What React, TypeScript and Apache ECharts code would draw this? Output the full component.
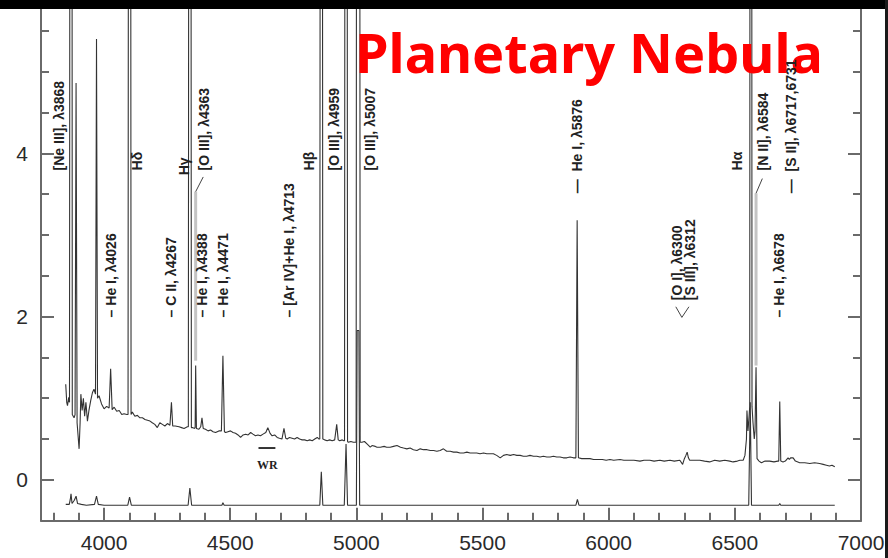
import React, { useEffect, useRef } from 'react';
import * as echarts from 'echarts';

// ---- axis ticks ----
const xMajorTicks = [4000, 4500, 5000, 5500, 6000, 6500, 7000];
const xMinorTicks = [3800, 3900, 4100, 4200, 4300, 4400, 4600, 4700, 4800, 4900, 5100, 5200, 5300, 5400, 5600, 5700, 5800, 5900, 6100, 6200, 6300, 6400, 6600, 6700, 6800, 6900];
const yMajorTicks = [0, 2, 4];
const yMinorTicks = [0.5, 1, 1.5, 2.5, 3, 3.5, 4.5, 5, 5.5];

// ---- spectrum: scaled (upper) trace, [wavelength Å, flux] ----
const upperSpectrum: [number, number][] = [
  [3848, 1.17], [3852, 0.95], [3855, 0.91], [3860, 1.01], [3863, 0.95],
  [3864, 0.95], [3866, 15], [3872, 15], [3874, 0.8],
  [3881, 0.76], [3885, 0.8], [3889, 4.86], [3893, 0.7],
  [3901, 0.38], [3905, 0.7], [3908, 1.05], [3913, 0.85], [3918, 1.0], [3923, 0.78], [3928, 0.95], [3934, 0.72], [3940, 0.85], [3947, 0.97], [3954, 1.07], [3960, 1.11],
  [3966, 1.05], [3970, 5.4], [3974, 1.0],
  [3980, 1.03], [3990, 0.93], [4000, 0.87], [4010, 0.9], [4020, 0.88], [4026, 1.36], [4032, 0.86], [4040, 0.89], [4050, 0.84], [4060, 0.85], [4070, 0.8], [4079, 0.81], [4090, 0.8],
  [4095, 0.8], [4098, 15], [4104, 15], [4107, 0.8],
  [4112, 0.83], [4122, 0.78], [4132, 0.79], [4142, 0.76], [4152, 0.76], [4162, 0.74], [4172, 0.73], [4182, 0.72], [4191, 0.7], [4201, 0.68], [4211, 0.64], [4221, 0.7], [4231, 0.68], [4241, 0.66], [4251, 0.69], [4261, 0.67], [4267, 0.95], [4272, 0.66], [4282, 0.66], [4297, 0.65], [4307, 0.64], [4317, 0.63], [4330, 0.65],
  [4334, 0.65], [4337, 15], [4343, 15], [4346, 0.64],
  [4352, 0.64], [4358, 0.63], [4361, 0.64], [4363, 1.4], [4366, 0.63],
  [4376, 0.62], [4383, 0.65], [4388, 0.76], [4393, 0.63], [4402, 0.62], [4412, 0.6], [4422, 0.61], [4432, 0.59], [4442, 0.58], [4455, 0.6], [4465, 0.6], [4471, 1.52], [4477, 0.59], [4482, 0.58], [4491, 0.59],
  [4501, 0.6], [4511, 0.58], [4521, 0.57], [4531, 0.55], [4541, 0.52], [4551, 0.55], [4561, 0.56], [4571, 0.55], [4581, 0.58], [4590, 0.56], [4600, 0.54], [4610, 0.55], [4620, 0.54], [4630, 0.56], [4641, 0.58], [4649, 0.64], [4658, 0.57], [4666, 0.54], [4676, 0.55], [4686, 0.52], [4695, 0.51], [4705, 0.5], [4713, 0.63], [4720, 0.51], [4726, 0.5], [4735, 0.52], [4745, 0.51], [4755, 0.5], [4765, 0.52], [4775, 0.5], [4785, 0.49], [4795, 0.49], [4805, 0.48], [4815, 0.49], [4825, 0.48], [4835, 0.5], [4845, 0.52], [4852, 0.5],
  [4855, 0.5], [4858, 15], [4864, 15], [4867, 0.5],
  [4874, 0.49], [4884, 0.48], [4894, 0.49], [4904, 0.48], [4914, 0.49], [4922, 0.68], [4928, 0.49], [4934, 0.48], [4944, 0.49], [4950, 0.48],
  [4953, 0.48], [4956, 15], [4962, 15], [4965, 0.47],
  [4968, 0.46], [4978, 0.47], [4988, 0.46], [4996, 0.46],
  [4999, 0.46], [5002, 15], [5012, 15], [5015, 0.46],
  [5022, 0.46], [5032, 0.47], [5042, 0.44], [5055, 0.4], [5062, 0.42], [5075, 0.41], [5082, 0.4], [5095, 0.4], [5110, 0.41], [5120, 0.4], [5134, 0.4], [5147, 0.41], [5161, 0.42], [5175, 0.4], [5187, 0.39], [5200, 0.38], [5213, 0.39], [5226, 0.37], [5240, 0.36], [5253, 0.38], [5266, 0.37], [5280, 0.37], [5293, 0.36], [5306, 0.36], [5319, 0.35], [5332, 0.36], [5345, 0.38], [5358, 0.35], [5372, 0.35], [5385, 0.34], [5398, 0.34], [5411, 0.33], [5425, 0.33], [5438, 0.34], [5451, 0.33], [5464, 0.33], [5477, 0.33], [5490, 0.32], [5504, 0.33], [5517, 0.32], [5530, 0.32], [5543, 0.32], [5556, 0.3], [5570, 0.27], [5583, 0.3], [5596, 0.31], [5610, 0.3], [5623, 0.31], [5636, 0.3], [5649, 0.3], [5662, 0.29], [5675, 0.29], [5688, 0.3], [5702, 0.29], [5715, 0.29], [5728, 0.28], [5741, 0.29], [5755, 0.28], [5768, 0.28], [5781, 0.29], [5794, 0.28], [5807, 0.28], [5820, 0.27], [5834, 0.27], [5847, 0.28], [5860, 0.27], [5870, 0.27],
  [5872, 0.27], [5875, 3.18], [5877, 3.18], [5880, 0.27],
  [5893, 0.26], [5905, 0.26], [5926, 0.26], [5940, 0.25], [5959, 0.25], [5975, 0.25], [5990, 0.24], [6005, 0.25], [6020, 0.24], [6045, 0.25], [6060, 0.24], [6084, 0.24], [6100, 0.24], [6124, 0.23], [6140, 0.24], [6163, 0.24], [6180, 0.23], [6203, 0.24], [6220, 0.23], [6243, 0.24], [6260, 0.23], [6282, 0.24], [6293, 0.19], [6300, 0.26], [6306, 0.3], [6311, 0.34], [6316, 0.27], [6321, 0.24], [6340, 0.24], [6361, 0.24], [6380, 0.23], [6400, 0.22], [6420, 0.24], [6440, 0.23], [6460, 0.24], [6480, 0.23], [6493, 0.22], [6510, 0.23], [6520, 0.24], [6533, 0.24], [6540, 0.3], [6546, 0.5], [6548, 0.85], [6552, 0.6], [6557, 0.8],
  [6559, 0.9], [6561, 15], [6566, 15], [6568, 0.9],
  [6572, 0.7], [6577, 0.5], [6580, 0.6], [6584, 1.38], [6588, 0.26], [6596, 0.23], [6605, 0.21], [6620, 0.23], [6638, 0.23], [6655, 0.22], [6670, 0.23], [6674, 0.23], [6678, 0.96], [6682, 0.23], [6691, 0.22], [6700, 0.23], [6711, 0.27], [6716, 0.25], [6721, 0.27], [6731, 0.27], [6740, 0.23], [6757, 0.21], [6777, 0.21], [6797, 0.2], [6816, 0.21], [6836, 0.2], [6850, 0.19], [6863, 0.18], [6875, 0.17], [6885, 0.18], [6896, 0.16],
];

// ---- spectrum: unscaled (lower) trace ----
const lowerSpectrum: [number, number][] = [
  [3848, -0.3], [3862, -0.3], [3866, -0.24], [3869, -0.17], [3873, -0.29], [3882, -0.25], [3889, -0.2], [3895, -0.29], [3910, -0.3], [3930, -0.31], [3962, -0.3], [3970, -0.2], [3977, -0.3],
  [4000, -0.31], [4094, -0.31], [4101, -0.21], [4108, -0.31], [4200, -0.31], [4333, -0.31], [4340, -0.1], [4347, -0.31], [4400, -0.31], [4467, -0.31], [4471, -0.28], [4476, -0.31], [4600, -0.31], [4800, -0.31],
  [4855, -0.31], [4861, 0.1], [4867, -0.31], [4952, -0.31], [4959, 0.44], [4965, -0.31],
  [5000, -0.31], [5003, 1.83], [5010, 1.83], [5013, -0.31], [5100, -0.31], [5500, -0.31], [5870, -0.31], [5876, -0.24], [5882, -0.31], [6300, -0.31],
  [6555, -0.31], [6561, 0.95], [6566, -0.31], [6674, -0.31], [6678, -0.29], [6682, -0.31], [6896, -0.31],
];

// ---- line identifications ----
const labelTexts = [
  '[Ne III], λ3868', 'Hδ', 'Hγ', '[O III], λ4363',
  '– He I, λ4026', '– C II, λ4267', '– He I, λ4388', '– He I, λ4471', '– [Ar IV]+He I, λ4713',
  'Hβ', '[O III], λ4959', '[O III], λ5007',
  '—  He I, λ5876', '[O I], λ6300', '[S III], λ6312',
  'Hα', '[N II], λ6584', '—  [S II], λ6717,6731', '– He I, λ6678',
];
const labelWavelengths = [3821, 4132, 4315, 4395, 4027, 4264, 4389, 4470, 4731, 4814, 4913, 5052, 5873, 6270, 6322, 6508, 6611, 6724, 6674];
const labelLevels = [3.79, 3.79, 3.73, 3.79, 1.99, 1.99, 1.99, 1.99, 1.99, 3.79, 3.79, 3.79, 3.51, 2.2, 2.2, 3.79, 3.79, 3.51, 1.99];

const GRAY = '#333333';
const AXIS = '#6a6a6a';

export default function App() {
  const ref = useRef<HTMLDivElement>(null);
  useEffect(() => {
    if (!ref.current) return;
    const chart = echarts.init(ref.current, null, { renderer: 'svg' });
    const tickLine = { color: AXIS, width: 2 };
    const labelFont = { fontSize: 21, color: '#2a2a2a', fontFamily: 'Liberation Sans' };
    chart.setOption({
      animation: false,
      backgroundColor: '#ffffff',
      title: {
        text: 'Planetary Nebula',
        left: 350,
        top: 20,
        textStyle: { color: '#ff0000', fontSize: 54, fontWeight: 'bold', fontFamily: 'Noto Sans' },
      },
      grid: { left: 41, right: 27, top: 6.3, bottom: 37.3 },
      xAxis: [
        {
          type: 'value', min: 3750, max: 7000, position: 'bottom',
          axisLine: { show: true, onZero: false, lineStyle: tickLine },
          axisTick: { show: true, inside: true, length: 13, customValues: xMajorTicks, lineStyle: tickLine },
          axisLabel: { show: true, customValues: xMajorTicks, margin: 11, formatter: (v: number) => String(v), ...labelFont },
          splitLine: { show: false },
        },
        {
          type: 'value', min: 3750, max: 7000, position: 'bottom',
          axisLine: { show: false, onZero: false },
          axisTick: { show: true, inside: true, length: 8, customValues: xMinorTicks, lineStyle: tickLine },
          axisLabel: { show: false },
          splitLine: { show: false },
        },
      ],
      yAxis: [
        {
          type: 'value', min: -0.5, max: 5.8, position: 'left',
          axisLine: { show: true, onZero: false, lineStyle: tickLine },
          axisTick: { show: true, inside: true, length: 13, customValues: yMajorTicks, lineStyle: tickLine },
          axisLabel: { show: true, customValues: yMajorTicks, margin: 13, formatter: (v: number) => String(v), ...labelFont },
          splitLine: { show: false },
        },
        {
          type: 'value', min: -0.5, max: 5.8, position: 'left',
          axisLine: { show: false, onZero: false },
          axisTick: { show: true, inside: true, length: 8, customValues: yMinorTicks, lineStyle: tickLine },
          axisLabel: { show: false },
          splitLine: { show: false },
        },
        {
          type: 'value', min: -0.5, max: 5.8, position: 'right',
          axisLine: { show: true, onZero: false, lineStyle: tickLine },
          axisTick: { show: true, inside: true, length: 13, customValues: yMajorTicks, lineStyle: tickLine },
          axisLabel: { show: false },
          splitLine: { show: false },
        },
        {
          type: 'value', min: -0.5, max: 5.8, position: 'right',
          axisLine: { show: false, onZero: false },
          axisTick: { show: true, inside: true, length: 8, customValues: yMinorTicks, lineStyle: tickLine },
          axisLabel: { show: false },
          splitLine: { show: false },
        },
      ],
      series: [
        {
          type: 'line', xAxisIndex: 0, yAxisIndex: 0, data: upperSpectrum, showSymbol: false, silent: true, clip: true,
          lineStyle: { color: GRAY, width: 1.1 },
        },
        {
          type: 'line', xAxisIndex: 0, yAxisIndex: 0, data: lowerSpectrum, showSymbol: false, silent: true, clip: true,
          lineStyle: { color: GRAY, width: 1.1 },
        },
      ],
    });

    const toPx = (wl: number, v: number) => chart.convertToPixel({ seriesIndex: 0 }, [wl, v]) as number[];
    const graphics: any[] = [];
    labelTexts.forEach((t, i) => {
      const [x, y] = toPx(labelWavelengths[i], labelLevels[i]);
      graphics.push({
        type: 'text', x, y, rotation: Math.PI / 2, z: 10,
        style: { text: t, fill: '#222', fontSize: 14, fontWeight: 'bold', fontFamily: 'Liberation Sans', align: 'left', verticalAlign: 'middle' },
      });
    });
    // connectors
    const c1a = toPx(4393, 3.71), c1b = toPx(4363, 3.53), c1c = toPx(4363, 1.46);
    const c2a = toPx(6609, 3.69), c2b = toPx(6584, 3.51), c2c = toPx(6584, 1.4);
    graphics.push({ type: 'line', z: 9, shape: { x1: c1b[0], y1: c1b[1], x2: c1c[0], y2: c1c[1] }, style: { stroke: '#c4c4c4', lineWidth: 3 } });
    graphics.push({ type: 'line', z: 9, shape: { x1: c2b[0], y1: c2b[1], x2: c2c[0], y2: c2c[1] }, style: { stroke: '#c4c4c4', lineWidth: 3 } });
    graphics.push({ type: 'polyline', z: 10, shape: { points: [c1a, c1b] }, style: { stroke: '#444', lineWidth: 1, fill: null } });
    graphics.push({ type: 'polyline', z: 10, shape: { points: [c2a, c2b] }, style: { stroke: '#444', lineWidth: 1, fill: null } });
    const v1 = toPx(6266, 2.12), v2 = toPx(6290, 1.99), v3 = toPx(6318, 2.12);
    graphics.push({ type: 'polyline', z: 10, shape: { points: [v1, v2, v3] }, style: { stroke: '#444', lineWidth: 1, fill: null } });
    // WR feature
    const w1 = toPx(4612, 0.39), w2 = toPx(4679, 0.39), wt = toPx(4647, 0.18);
    graphics.push({ type: 'line', z: 10, shape: { x1: w1[0], y1: w1[1], x2: w2[0], y2: w2[1] }, style: { stroke: '#333', lineWidth: 2 } });
    graphics.push({ type: 'text', x: wt[0], y: wt[1], z: 10, style: { text: 'WR', fill: '#222', fontSize: 12, fontWeight: 'bold', fontFamily: 'Liberation Serif', align: 'center', verticalAlign: 'middle' } });
    // frame decorations
    graphics.push({ type: 'rect', z: 100, shape: { x: 0, y: 0, width: 888, height: 9 }, style: { fill: '#000' } });
    graphics.push({ type: 'rect', z: 100, shape: { x: 885, y: 0, width: 3, height: 558 }, style: { fill: '#1a1a1a' } });
    chart.setOption({ graphic: graphics });

    return () => chart.dispose();
  }, []);
  return <div ref={ref} style={{ position: 'fixed', left: 0, top: 0, width: 888, height: 558, background: '#fff' }} />;
}
